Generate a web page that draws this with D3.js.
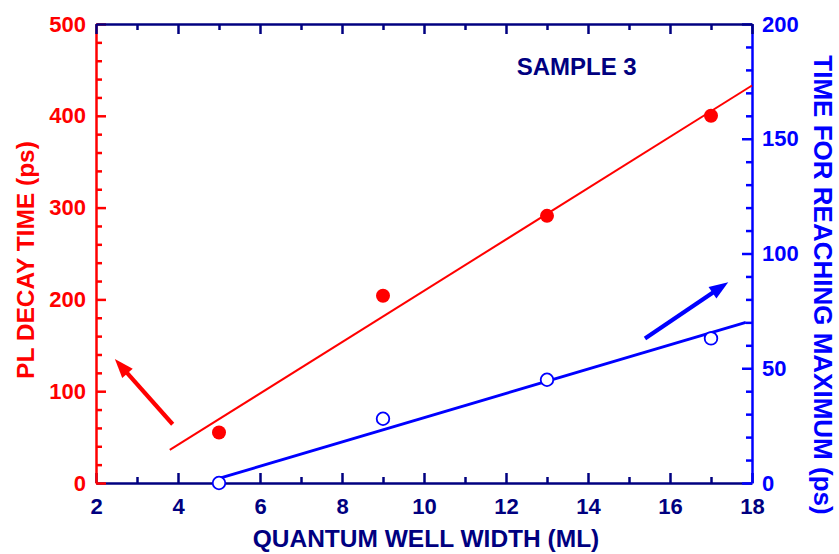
<!DOCTYPE html>
<html>
<head>
<meta charset="utf-8">
<script src="https://cdn.jsdelivr.net/npm/d3@7"></script>
<style>
  html, body { margin: 0; padding: 0; background: #fff; }
  svg { display: block; }
  text { font-family: "Liberation Sans", Arial, sans-serif; font-weight: bold; }
</style>
</head>
<body>
<svg id="chart" width="839" height="554"></svg>
<script>
// ---- data ----
const widths   = [5, 9, 13, 17];          // quantum well width (ML)
const plDecay  = [55, 204, 291, 400];     // PL decay time (ps), left axis
const timeMax  = [0, 28, 45, 63];         // time for reaching maximum (ps), right axis

const redFitX  = [3.8, 18];
const redFitY  = [36, 433];
const blueFitX = [5, 17.85];
const blueFitY = [2, 70];

const redArrowX  = [3.87, 2.46];
const redArrowY  = [64, 135];
const blueArrowX = [15.39, 17.42];
const blueArrowY = [63, 87.5];

const xTicks      = [2, 4, 6, 8, 10, 12, 14, 16, 18];
const xMinor      = [3, 5, 7, 9, 11, 13, 15, 17];
const leftTicks   = [0, 100, 200, 300, 400, 500];
const leftMinor   = [20, 40, 60, 80, 120, 140, 160, 180, 220, 240, 260, 280, 320, 340, 360, 380, 420, 440, 460, 480];
const rightTicks  = [0, 50, 100, 150, 200];
const rightMinor  = [10, 20, 30, 40, 60, 70, 80, 90, 110, 120, 130, 140, 160, 170, 180, 190];

const xTitle     = "QUANTUM WELL WIDTH (ML)";
const leftTitle  = "PL DECAY TIME (ps)";
const rightTitle = "TIME FOR REACHING MAXIMUM (ps)";
const sampleLabel = "SAMPLE 3";

// ---- layout ----
const RED = "#ff0000", BLUE = "#0000ff", NAVY = "#000080";
const L = 96, R = 752, T = 24, B = 483;
const svg = d3.select("#chart");

const x  = d3.scaleLinear().domain([2, 18]).range([L, R]);
const yL = d3.scaleLinear().domain([0, 500]).range([B, T]);
const yR = d3.scaleLinear().domain([0, 200]).range([B, T]);

function styleAxis(g, color, fs) {
  g.select(".domain").attr("stroke", color).attr("stroke-width", 2.5);
  g.selectAll(".tick line").attr("stroke", color).attr("stroke-width", 2.5);
  g.selectAll(".tick text").attr("fill", color).style("font-size", fs + "px")
    .style("font-family", '"Liberation Sans", Arial, sans-serif').style("font-weight", "bold");
}

// bottom axis
const gB = svg.append("g").attr("transform", `translate(0,${B})`);
gB.append("g").call(d3.axisBottom(x).tickValues(xMinor).tickSize(-6).tickFormat("")).call(g => { styleAxis(g, NAVY, 22); g.select(".domain").remove(); });
gB.append("g").call(d3.axisBottom(x).tickValues(xTicks).tickSizeInner(-10).tickSizeOuter(0).tickPadding(15).tickFormat(d3.format("d"))).call(g => styleAxis(g, NAVY, 22));

// left axis
const gL = svg.append("g").attr("transform", `translate(${L},0)`);
gL.append("g").call(d3.axisLeft(yL).tickValues(leftMinor).tickSize(-6).tickFormat("")).call(g => { styleAxis(g, RED, 22); g.select(".domain").remove(); });
gL.append("g").call(d3.axisLeft(yL).tickValues(leftTicks).tickSizeInner(-10).tickSizeOuter(0).tickPadding(10).tickFormat(d3.format("d"))).call(g => styleAxis(g, RED, 22));

// right axis
const gR = svg.append("g").attr("transform", `translate(${R},0)`);
gR.append("g").call(d3.axisRight(yR).tickValues(rightMinor).tickSize(-6).tickFormat("")).call(g => { styleAxis(g, BLUE, 22); g.select(".domain").remove(); });
gR.append("g").call(d3.axisRight(yR).tickValues(rightTicks).tickSizeInner(-10).tickSizeOuter(0).tickPadding(10).tickFormat(d3.format("d"))).call(g => styleAxis(g, BLUE, 22));

// top axis
const gT = svg.append("g").attr("transform", `translate(0,${T})`);
gT.append("g").call(d3.axisTop(x).tickValues(xMinor).tickSize(-6).tickFormat("")).call(g => { styleAxis(g, NAVY, 22); g.select(".domain").remove(); });
gT.append("g").call(d3.axisTop(x).tickValues(xTicks).tickSizeInner(-10).tickSizeOuter(0).tickFormat("")).call(g => styleAxis(g, NAVY, 22));

// titles
svg.append("text").attr("x", 426).attr("y", 547).attr("text-anchor", "middle")
  .attr("fill", NAVY).style("font-size", "24.5px").text(xTitle);
svg.append("text").attr("transform", `translate(34,260) rotate(-90)`).attr("text-anchor", "middle")
  .attr("fill", RED).style("font-size", "24.5px").text(leftTitle);
svg.append("text").attr("transform", `translate(814,285) rotate(90)`).attr("text-anchor", "middle")
  .attr("fill", BLUE).style("font-size", "26px").text(rightTitle);

// sample label
svg.append("text").attr("x", x(12.26)).attr("y", yL(444)).attr("fill", NAVY)
  .style("font-size", "24px").text(sampleLabel);

// fit lines
const line = (sx, sy) => d3.line().x(d => sx(d[0])).y(d => sy(d[1]));
svg.append("path").datum(d3.zip(redFitX, redFitY)).attr("d", line(x, yL))
  .attr("stroke", RED).attr("stroke-width", 2).attr("fill", "none");
svg.append("path").datum(d3.zip(blueFitX, blueFitY)).attr("d", line(x, yR))
  .attr("stroke", BLUE).attr("stroke-width", 3).attr("fill", "none");

// arrows
function arrow(xs, ys, sy, color) {
  const x0 = x(xs[0]), y0 = sy(ys[0]), x1 = x(xs[1]), y1 = sy(ys[1]);
  const ang = Math.atan2(y1 - y0, x1 - x0);
  const hl = 19, hw = 7;
  const bx = x1 - hl * Math.cos(ang), by = y1 - hl * Math.sin(ang);
  svg.append("line").attr("x1", x0).attr("y1", y0).attr("x2", bx + 2 * Math.cos(ang)).attr("y2", by + 2 * Math.sin(ang))
    .attr("stroke", color).attr("stroke-width", 4.2);
  const px = -Math.sin(ang), py = Math.cos(ang);
  svg.append("path")
    .attr("d", `M${x1},${y1}L${bx + hw * px},${by + hw * py}L${bx - hw * px},${by - hw * py}Z`)
    .attr("fill", color);
}
arrow(redArrowX, redArrowY, yL, RED);
arrow(blueArrowX, blueArrowY, yR, BLUE);

// points
svg.append("g").selectAll("circle").data(d3.zip(widths, plDecay)).join("circle")
  .attr("cx", d => x(d[0])).attr("cy", d => yL(d[1])).attr("r", 7).attr("fill", RED);
svg.append("g").selectAll("circle").data(d3.zip(widths, timeMax)).join("circle")
  .attr("cx", d => x(d[0])).attr("cy", d => yR(d[1])).attr("r", 6.3)
  .attr("fill", "#fff").attr("stroke", BLUE).attr("stroke-width", 1.8);
</script>
</body>
</html>
